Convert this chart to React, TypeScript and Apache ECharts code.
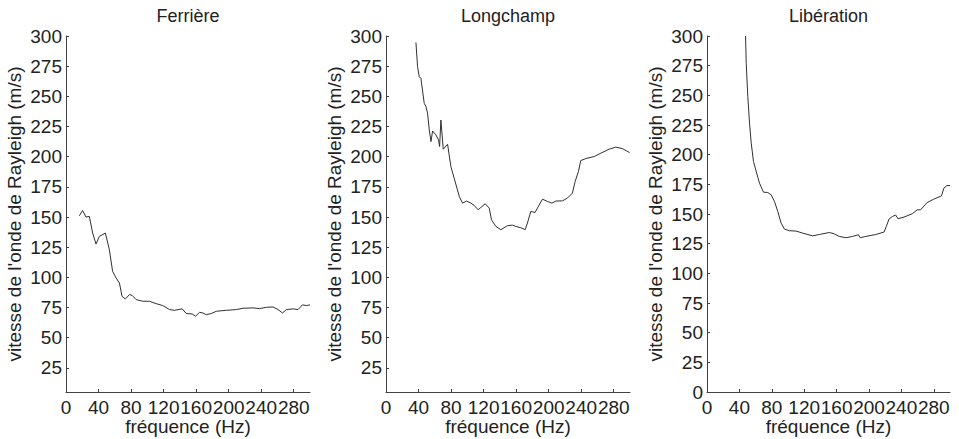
import React, { useEffect, useRef } from "react";
import * as echarts from "echarts";

const titles = ["Ferrière", "Longchamp", "Libération"];
const xName = "fréquence (Hz)";
const yName = "vitesse de l'onde de Rayleigh (m/s)";
const xTicks = [0, 40, 80, 120, 160, 200, 240, 280];
const yTicksShort = [25, 50, 75, 100, 125, 150, 175, 200, 225, 250, 275, 300];
const yTicksFull = [0, 25, 50, 75, 100, 125, 150, 175, 200, 225, 250, 275, 300];

const ferriereFreq = [16.4, 20.4, 24.6, 28.7, 32.8, 36.9, 41, 48.4, 53.3, 57.3, 61.6, 65.7, 68.9, 73, 78, 81.3, 86.2, 94.4, 102.6, 110.9, 119, 127.3, 133.4, 142.9, 147.9, 155.2, 159.3, 164.2, 168.3, 172.4, 178.6, 184.8, 197.1, 209.5, 217.6, 229.9, 238.1, 246.4, 254.5, 260.7, 266.1, 271, 279.2, 285.3, 290.7, 295.7, 300];
const ferriereVel = [151, 155.4, 150, 150.5, 136.7, 127.6, 134, 136.7, 123, 105, 99.5, 95.3, 84.3, 82.1, 85.7, 85.1, 81.6, 80.2, 80.2, 78.2, 76.6, 73.3, 72.7, 73.9, 70, 69.7, 67.8, 71, 70.5, 69.1, 70, 71.9, 72.7, 73.3, 74.4, 74.7, 74.1, 75.2, 75.5, 73.3, 70.5, 73.3, 73.9, 73.3, 77.2, 76.6, 77.2];

const longchampFreq = [36.8, 38.8, 40.9, 42.9, 47, 49.1, 51.1, 53.2, 55.3, 57.3, 61.4, 64.6, 65.9, 67.5, 70.4, 75.7, 79.8, 83.8, 90.1, 94.1, 99, 104.4, 108.4, 113.3, 116.6, 122, 126.9, 129.7, 135.1, 141.2, 149.3, 155.5, 159.7, 165.8, 171.1, 173.9, 178, 183.3, 186.2, 192.4, 198.5, 203.9, 208.8, 217, 223.1, 229.2, 232.5, 236.6, 239.5, 245.6, 255.9, 264.1, 274.3, 282.4, 290.6, 299.5];
const longchampVel = [294.7, 274.5, 266.3, 264.9, 244.2, 241.5, 236, 222.2, 212.5, 221.3, 218, 213.9, 208.4, 230.4, 206.2, 210.3, 191.8, 182.2, 167, 161.5, 163.2, 161.5, 159.6, 156, 157.9, 161, 157.4, 147.7, 142.2, 139.5, 142.8, 143.3, 142.2, 141.1, 139.5, 145, 154.6, 153.8, 157.4, 164.8, 162.9, 161.5, 163.2, 163.4, 165.7, 169.8, 179.4, 187.7, 196.8, 198.4, 200.1, 202.9, 206.2, 207.9, 206.7, 203.4];

const liberationFreq = [47.6, 48.4, 50.4, 52.5, 54.6, 57.4, 60.8, 64.8, 69.7, 75, 79.2, 83.3, 87.4, 91.5, 95.6, 101.7, 110, 118.1, 130.4, 138.6, 150.9, 157.1, 163.2, 171.5, 179.6, 187, 189.1, 196, 208.4, 218.6, 221.4, 224.7, 228.8, 233, 235.8, 243.2, 253.4, 259.5, 263.7, 271.8, 280, 289.5, 292.4, 296.4, 300];
const liberationVel = [300, 277, 248.9, 226.5, 209.7, 194.2, 185.8, 176, 168.4, 168.1, 166.2, 160.5, 152.1, 142.3, 137.3, 135.9, 135.6, 133.9, 131.6, 132.7, 134.4, 133.3, 131.1, 130, 131.1, 132.5, 130, 131.1, 132.7, 134.8, 139.5, 145.7, 147.9, 149.1, 146, 147.4, 150.2, 153.5, 153.5, 159.7, 162.5, 165.3, 171.8, 174, 174];

const FONT = "'Liberation Sans', Arial, Helvetica, sans-serif";
const TEXT = "#222";
const AXIS = "#404040";
const LINE = "#303030";
const LABEL_SIZE = 19;

const grids = [
  { left: 66, top: 36, width: 244, height: 356 },
  { left: 386, top: 36, width: 244, height: 356 },
  { left: 707, top: 36, width: 243, height: 356 },
];

function zip(a: number[], b: number[]) {
  return a.map((v, i) => [v, b[i]]);
}

export default function App() {
  const ref = useRef<HTMLDivElement>(null);
  useEffect(() => {
    if (!ref.current) return;
    const chart = echarts.init(ref.current, undefined, { renderer: "svg" });
    const yMins = [5, 5, 0];
    const yTickSets = [yTicksShort, yTicksShort, yTicksFull];
    const datas = [
      zip(ferriereFreq, ferriereVel),
      zip(longchampFreq, longchampVel),
      zip(liberationFreq, liberationVel),
    ];
    chart.setOption({
      animation: false,
      backgroundColor: "#fff",
      grid: grids.map((g) => ({ ...g, containLabel: false, outerBoundsMode: "none" })),
      graphic: grids.map((g, i) => ({
        type: "text",
        x: g.left + g.width / 2,
        y: 16,
        style: {
          text: titles[i],
          fill: TEXT,
          font: `18px ${FONT}`,
          textAlign: "center",
          textVerticalAlign: "middle",
        },
      })),
      xAxis: grids.map((_, i) => ({
        type: "value",
        gridIndex: i,
        min: 0,
        max: 300,
        name: xName,
        nameLocation: "middle",
        nameGap: 25,
        nameMoveOverlap: false,
        nameTextStyle: { fontSize: LABEL_SIZE, color: TEXT, fontFamily: FONT },
        axisLine: { show: true, lineStyle: { color: AXIS, width: 1 } },
        axisTick: { show: true, inside: true, length: 3, customValues: xTicks, lineStyle: { color: AXIS } },
        axisLabel: {
          customValues: xTicks,
          fontSize: LABEL_SIZE,
          color: TEXT,
          fontFamily: FONT,
          margin: 6,
          hideOverlap: false,
        },
        splitLine: { show: false },
      })),
      yAxis: grids.map((_, i) => ({
        type: "value",
        gridIndex: i,
        min: yMins[i],
        max: 300,
        name: yName,
        nameLocation: "middle",
        nameGap: 42,
        nameMoveOverlap: false,
        nameTextStyle: { fontSize: LABEL_SIZE, color: TEXT, fontFamily: FONT },
        axisLine: { show: true, lineStyle: { color: AXIS, width: 1 } },
        axisTick: { show: true, inside: true, length: 3, customValues: yTickSets[i], lineStyle: { color: AXIS } },
        axisLabel: {
          customValues: yTickSets[i],
          fontSize: LABEL_SIZE,
          color: TEXT,
          fontFamily: FONT,
          margin: 4,
          verticalAlignMinLabel: "middle",
          verticalAlignMaxLabel: "middle",
          hideOverlap: false,
        },
        splitLine: { show: false },
      })),
      series: datas.map((d, i) => ({
        type: "line",
        xAxisIndex: i,
        yAxisIndex: i,
        data: d,
        showSymbol: false,
        symbol: "none",
        lineStyle: { color: LINE, width: 1 },
        clip: true,
      })),
    });
    return () => chart.dispose();
  }, []);
  return (
    <div
      ref={ref}
      style={{ position: "absolute", left: 0, top: 0, width: 959, height: 439 }}
    />
  );
}
